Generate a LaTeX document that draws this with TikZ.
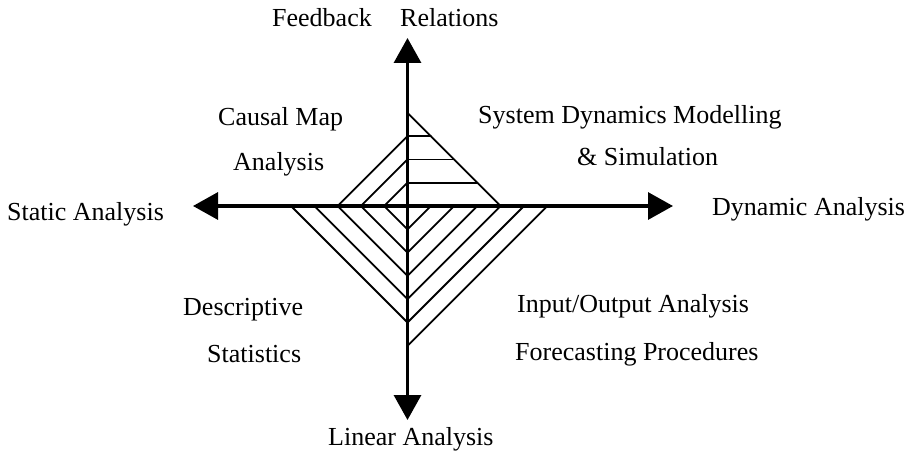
\documentclass[tikz,border=0pt]{standalone}
\usepackage{fontspec}
\setmainfont{Liberation Serif}
\usetikzlibrary{arrows.meta}
\tikzset{
  axisline/.style={line width=3.2pt, -{Triangle[length=25pt,width=27pt]}},
  hatch/.style={line width=1.8pt, line cap=round},
  lbl/.style={anchor=base west, inner sep=0pt, font=\fontsize{26}{30}\selectfont}
}
\begin{document}
\begin{tikzpicture}[x=1pt,y=-1pt]
\useasboundingbox (0,0) rectangle (911,460);
\def\cx{407.5}\def\cy{206}\def\dd{23.3}
\coordinate (O) at (\cx,\cy);
\coordinate (T) at (\cx,38);
\coordinate (B) at (\cx,420);
\coordinate (L) at (193,\cy);
\coordinate (R) at (673,\cy);
% bottom-left hatch
\foreach \k in {1,...,5}{
  \draw[hatch] (\cx-\k*\dd,\cy) -- (\cx,\cy+\k*\dd);
}
% bottom-right hatch
\foreach \k in {1,...,6}{
  \draw[hatch] (\cx,\cy+\k*\dd) -- (\cx+\k*\dd,\cy);
}
% top-left hatch
\foreach \k in {1,...,3}{
  \draw[hatch] (\cx-\k*\dd,\cy) -- (\cx,\cy-\k*\dd);
}
% top-right triangle with horizontal hatch
\draw[hatch] (\cx,\cy-4*\dd) -- (\cx+4*\dd,\cy);
\foreach \k in {1,...,3}{
  \draw[hatch] (\cx,\cy-\k*\dd) -- (\cx+4*\dd-\k*\dd,\cy-\k*\dd);
}
% axes
\draw[axisline] (O) -- (T);
\draw[axisline] (O) -- (B);
\draw[axisline] (O) -- (L);
\draw[axisline] (O) -- (R);
% labels
\node[lbl] (fb) at (272,27) {Feedback};
\node[lbl] (rel) at (400,27) {Relations};
\node[lbl] (cm1) at (218,125) {Causal Map};
\node[lbl] (cm2) at (233,170) {Analysis};
\node[lbl] (sd1) at (478,123) {System Dynamics Modelling};
\node[lbl] (sd2) at (577,165) {\& Simulation};
\node[lbl] (sa) at (7,220) {Static Analysis};
\node[lbl] (da) at (712,215) {Dynamic Analysis};
\node[lbl] (ds1) at (183,315) {Descriptive};
\node[lbl] (ds2) at (207,362) {Statistics};
\node[lbl] (io1) at (517,312) {Input/Output Analysis};
\node[lbl] (io2) at (515,360) {Forecasting Procedures};
\node[lbl] (la) at (328,445) {Linear Analysis};
\end{tikzpicture}
\end{document}
